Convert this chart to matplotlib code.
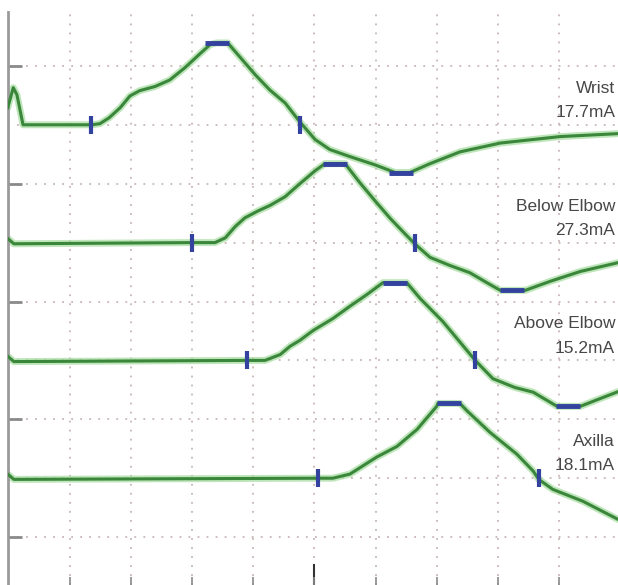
import matplotlib
matplotlib.use("Agg")
import matplotlib.pyplot as plt

# 神经传导波形：四个刺激点，x 为格数，y 为相对基线的格数
names = ["Wrist", "Below Elbow", "Above Elbow", "Axilla"]
currents = ["17.7mA", "27.3mA", "15.2mA", "18.1mA"]
baselines = [8, 6, 4, 2]

wrist_x = [-0.02, 0.07, 0.13, 0.23, 1.36, 1.49, 1.64, 1.82, 1.98, 2.14, 2.39, 2.63, 2.88, 3.13, 3.29,
           3.40, 3.58, 3.78, 4.03, 4.27, 4.52, 4.76, 5.01, 5.25, 5.58, 5.99, 6.32, 6.56, 6.89, 7.38,
           8.04, 9.02, 9.97]
wrist_y = [0.29, 0.63, 0.51, 0.0, 0.0, 0.02, 0.12, 0.29, 0.49, 0.58, 0.65, 0.76, 0.97, 1.21, 1.36,
           1.39, 1.39, 1.15, 0.85, 0.59, 0.37, 0.05, -0.25, -0.42, -0.54, -0.68, -0.81, -0.81, -0.66,
           -0.46, -0.31, -0.20, -0.15]

below_x = [-0.02, 0.08, 3.01, 3.37, 3.54, 3.70, 3.86, 4.08, 4.27, 4.52, 4.76, 5.01, 5.17, 5.50, 5.74,
           5.99, 6.24, 6.48, 6.64, 6.89, 7.22, 7.54, 7.87, 8.04, 8.45, 8.85, 9.35, 9.97]
below_y = [0.07, -0.02, 0.0, 0.0, 0.08, 0.27, 0.42, 0.54, 0.63, 0.78, 1.00, 1.22, 1.34, 1.34, 1.02,
           0.71, 0.41, 0.15, -0.02, -0.25, -0.39, -0.51, -0.71, -0.81, -0.81, -0.66, -0.49, -0.34]

above_x = [-0.02, 0.08, 3.90, 4.19, 4.44, 4.60, 4.76, 4.98, 5.30, 5.58, 5.86, 6.12, 6.51, 6.73, 7.10,
           7.43, 7.63, 7.92, 8.28, 8.58, 8.97, 9.35, 9.67, 9.97]
above_y = [0.07, -0.02, 0.0, 0.0, 0.10, 0.24, 0.34, 0.51, 0.71, 0.92, 1.12, 1.32, 1.32, 1.05, 0.66,
           0.25, 0.0, -0.31, -0.46, -0.54, -0.78, -0.78, -0.65, -0.53]

axilla_x = [-0.02, 0.08, 5.06, 5.30, 5.58, 6.02, 6.35, 6.68, 7.00, 7.02, 7.38, 7.50, 7.87, 8.31, 8.58,
            8.67, 8.90, 9.39, 9.97]
axilla_y = [0.07, -0.02, 0.0, 0.0, 0.07, 0.36, 0.54, 0.83, 1.22, 1.27, 1.27, 1.14, 0.78, 0.41, 0.12,
            -0.02, -0.19, -0.39, -0.70]

traces_x = [wrist_x, below_x, above_x, axilla_x]
traces_y = [wrist_y, below_y, above_y, axilla_y]

# 标记：起始点、交叉点（竖线），峰和谷（横线）
onset_x = [1.34, 3.00, 3.90, 5.06]
cross_x = [4.76, 6.64, 7.63, 8.67]
peak_x = [3.40, 5.34, 6.32, 7.20]
peak_y = [1.39, 1.34, 1.32, 1.27]
trough_x = [6.42, 8.23, 9.15]
trough_y = [-0.81, -0.81, -0.78]

green = "#3a863a"
halo = "#a9dea3"
blue = "#33419f"

fig = plt.figure(figsize=(6.18, 5.85), dpi=100)
ax = fig.add_axes([8 / 618, 0, 610 / 618, 573 / 585])
ax.set_xlim(-0.016, 9.967)
ax.set_ylim(0.187, 9.915)

for v in range(1, 10):
    ax.axvline(v, color="#c9b5b5", lw=1.3, ls=(0, (1, 4)), zorder=1)
    ax.axhline(v, color="#c9b5b5", lw=1.3, ls=(0, (1, 4)), zorder=1)

for i in range(4):
    b = baselines[i]
    ys = [b + y for y in traces_y[i]]
    ax.plot(traces_x[i], ys, color=halo, lw=5, alpha=0.75, solid_capstyle="round",
            solid_joinstyle="round", zorder=2)
    ax.plot(traces_x[i], ys, color=green, lw=2.2, solid_joinstyle="round", zorder=3)
    ax.plot([onset_x[i], cross_x[i]], [b, b], ls="none", marker="|", ms=13, mew=3,
            color=blue, zorder=4)
    ax.plot(peak_x[i], b + peak_y[i], marker="_", ms=17, mew=3.5, color=blue, zorder=4)
    if i < len(trough_x):
        ax.plot(trough_x[i], b + trough_y[i], marker="_", ms=17, mew=3.5, color=blue, zorder=4)
    ax.text(9.92, b + 0.62, names[i], ha="right", va="center", fontsize=12.5,
            family="Liberation Sans", color="#474747")
    ax.text(9.92, b + 0.21, currents[i], ha="right", va="center", fontsize=12.5,
            family="Liberation Sans", color="#474747")

for s in ["top", "right", "bottom"]:
    ax.spines[s].set_visible(False)
ax.spines["left"].set_color("#9a9a9a")
ax.spines["left"].set_linewidth(2)

ax.set_yticks([1, 3, 5, 7, 9])
ax.tick_params(axis="y", direction="in", length=10, width=2, color="#8a8a8a", labelleft=False)
ax.set_xticks(range(1, 10))
ax.tick_params(axis="x", direction="in", length=6, width=1.2, color="#8a8a8a", labelbottom=False)
# 中间的刻度更长更深
ax.plot([5, 5], [0.187, 0.52], color="#333333", lw=1.5, zorder=1, clip_on=False)

fig.savefig("out.png", dpi=100, facecolor="white")
